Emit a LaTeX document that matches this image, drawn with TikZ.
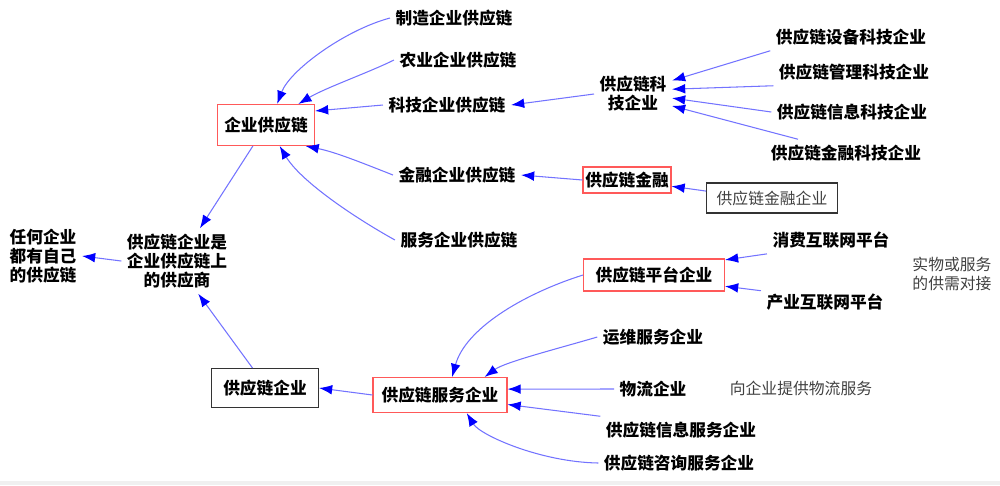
\documentclass[tikz,border=0pt]{standalone}
\usepackage{fontspec}
\setmainfont{Noto Sans CJK SC}
\usetikzlibrary{arrows.meta}
\begin{document}
\begin{tikzpicture}[x=0.02cm,y=-0.02cm,
  bt/.style={font=\bfseries\fontsize{9.5}{10.8}\selectfont, inner sep=3pt, align=center},
  nt/.style={font=\fontsize{9}{10.8}\selectfont, text=black!75, inner sep=3pt, align=center},
  rbox/.style={draw=red!65, line width=0.6pt, inner sep=0pt},
  kbox/.style={draw=black!80, line width=0.6pt, inner sep=0pt},
  arr/.style={draw=blue!55, line width=0.6pt, -{Latex[length=7.5pt,width=5.5pt,color=blue]}},
]
\useasboundingbox (0,0) rectangle (1000,485);
\fill[black!6] (0,481) rectangle (1000,485);

\node[bt,rbox,minimum width=1.94cm,minimum height=0.82cm] (qy) at (266,125) {企业供应链};
\node[bt] (zz) at (454,18) {制造企业供应链};
\node[bt] (ny) at (458,60) {农业企业供应链};
\node[bt] (kj) at (447,105) {科技企业供应链};
\node[bt] (jy) at (457,175) {金融企业供应链};
\node[bt] (fy) at (459,240) {服务企业供应链};
\node[bt] (gyl) at (177,261) {供应链企业是\\企业供应链上\\的供应商};
\node[bt] (rh) at (43,256) {任何企业\\都有自己\\的供应链};
\node[bt] (kjqy) at (633,94) {供应链科\\技企业};
\node[bt] (sb) at (851,37) {供应链设备科技企业};
\node[bt] (gl) at (854,72) {供应链管理科技企业};
\node[bt] (xx) at (852,112) {供应链信息科技企业};
\node[bt] (jrkj) at (846,153) {供应链金融科技企业};
\node[bt,rbox,minimum width=1.76cm,minimum height=0.52cm] (jr) at (627,180) {供应链金融};
\node[nt,kbox,minimum width=2.62cm,minimum height=0.6cm] (jrqy) at (772,198) {供应链金融企业};
\node[bt] (xf) at (831,240) {消费互联网平台};
\node[bt,rbox,minimum width=2.82cm,minimum height=0.64cm] (pt) at (654,275) {供应链平台企业};
\node[nt] (sw) at (952,274) {实物或服务\\的供需对接};
\node[bt] (cy) at (825,302) {产业互联网平台};
\node[bt] (yw) at (653,337) {运维服务企业};
\node[bt] (wl) at (653,389) {物流企业};
\node[nt] (wlfw) at (801,388) {向企业提供物流服务};
\node[bt] (xxfw) at (681,430) {供应链信息服务企业};
\node[bt] (zx) at (679,463) {供应链咨询服务企业};
\node[bt,rbox,minimum width=2.68cm,minimum height=0.7cm] (fw) at (440,395) {供应链服务企业};
\node[bt,kbox,minimum width=2.14cm,minimum height=0.78cm] (lqy) at (265,388) {供应链企业};

% into 企业供应链
\draw[arr] (zz.west) .. controls (345,30) and (290,70) .. (qy.62);
\draw[arr] (ny.west) .. controls (370,72) and (325,88) .. (qy.33);
\draw[arr] (kj.west) -- (qy.16);
\draw[arr] (jy.west) .. controls (360,162) and (335,152) .. (qy.-28);
\draw[arr] (fy.west) .. controls (350,215) and (300,180) .. (qy.-57);
\draw[arr] (qy.-122) -- (gyl.55);
\draw[arr] (gyl.west) -- (rh.east);
\draw[arr] (lqy.122) -- (gyl.-57);

% tech
\draw[arr] (kjqy.west) -- (kj.east);
\draw[arr] (sb.south west) -- (kjqy.19);
\draw[arr] (gl.south west) -- (kjqy.7);
\draw[arr] (xx.west) -- (kjqy.-6);
\draw[arr] (jrkj.164) -- (kjqy.-17);

% finance
\draw[arr] (jr.west) -- (jy.east);
\draw[arr] (jrqy.174) -- (jr.-8);

% platform
\draw[arr] (xf.south west) -- (pt.12);
\draw[arr] (cy.170) -- (pt.-9);

% service
\draw[arr] (pt.west) .. controls (520,295) and (465,330) .. (fw.56);
\draw[arr] (yw.west) .. controls (560,348) and (505,362) .. (fw.22);
\draw[arr] (wl.west) -- (fw.5);
\draw[arr] (xxfw.north west) -- (fw.-8);
\draw[arr] (zx.west) .. controls (540,462) and (480,435) .. (fw.-34);
\draw[arr] (fw.west) -- (lqy.east);
\end{tikzpicture}
\end{document}
